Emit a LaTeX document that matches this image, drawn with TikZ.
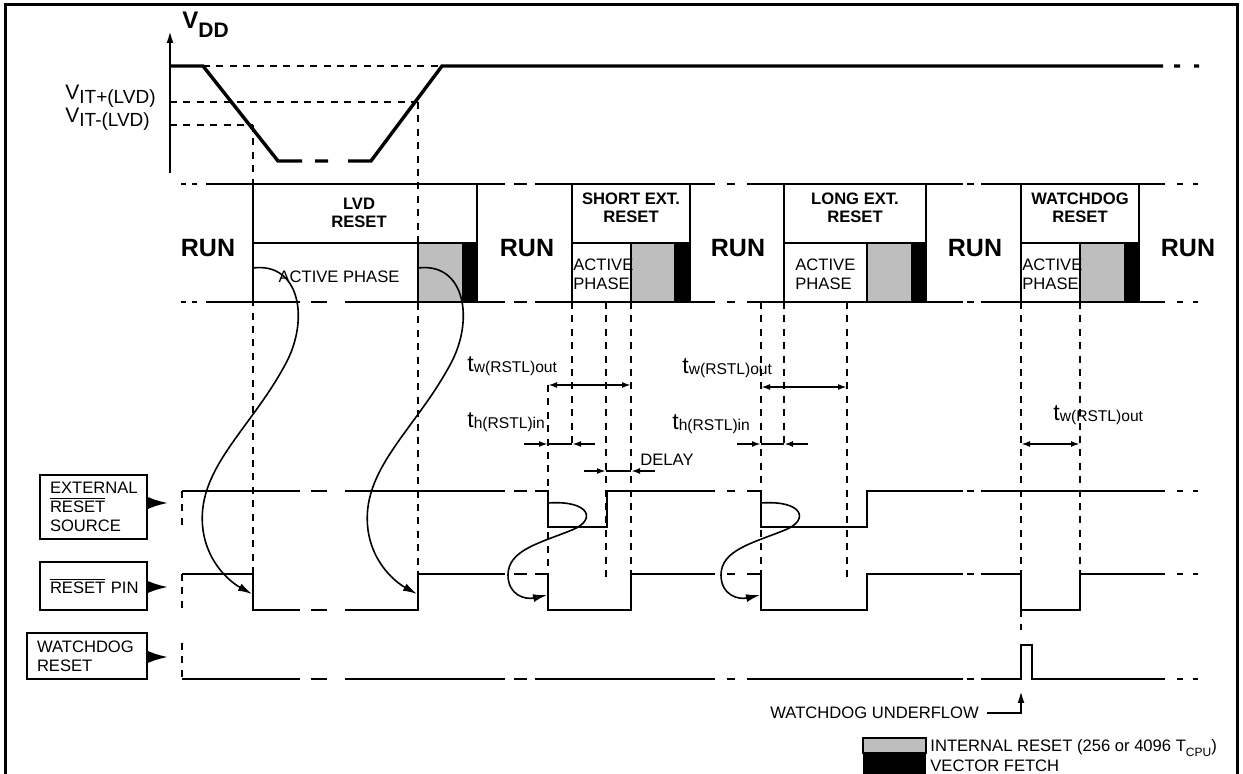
\documentclass[tikz,border=0pt]{standalone}
\usepackage{fontspec}
\setmainfont{Liberation Sans}
\usetikzlibrary{arrows.meta}
\definecolor{rstGray}{RGB}{190,190,190}
\newcommand{\fsz}[1]{\fontsize{#1}{#1}\selectfont}
\newcommand{\tlab}[1]{{\fsz{11.5}t}\raisebox{-0.5pt}{\fsz{7.8}#1}}
\newcommand{\rstbar}{$\overline{\hbox{RESET}}$}
\tikzset{
  txt/.style={font=\fontsize{8.3}{9.5}\selectfont, inner sep=0pt},
  btxt/.style={font=\fontsize{8.3}{8.8}\selectfont\bfseries, align=center, inner sep=0pt},
  runtxt/.style={font=\fontsize{12.5}{12.5}\selectfont\bfseries, inner sep=0pt},
  sig/.style={line width=1.15pt},
  vdd/.style={line width=1.7pt},
  guide/.style={line width=0.9pt, dash pattern=on 3.5pt off 3.2pt},
  dimarr/.style={line width=1pt, -{Latex[length=4.5pt,width=3pt]}},
  dimboth/.style={line width=1pt, {Latex[length=4.5pt,width=3pt]}-{Latex[length=4.5pt,width=3pt]}},
  cause/.style={line width=0.8pt, -{Latex[length=7pt,width=4pt]}},
  feed/.style={line width=1.1pt, -{Latex[length=10pt,width=6pt]}},
  sigbox/.style={draw, line width=1.1pt, font=\fontsize{8.3}{9.5}\selectfont, align=left, inner xsep=5pt, inner ysep=0pt}
}
\begin{document}
\begin{tikzpicture}[x=0.5pt,y=-0.5pt]
\useasboundingbox (0,0) rectangle (1243,774);
\draw[line width=1.5pt] (5,774) -- (5,5) -- (1237,5) -- (1237,774);

% supply
\draw[line width=1pt, -{Latex[length=6pt,width=3.5pt]}] (170,173) -- (170,31);
\node[anchor=base west, inner sep=0pt] (vddlab) at (182,29) {\fsz{12}\bfseries V\raisebox{-4.5pt}{\fsz{10.5}DD}};
\node[anchor=base west, inner sep=0pt] (vitp) at (65,100) {\fsz{10.5}V\raisebox{-2pt}{\fsz{9.5}IT+(LVD)}};
\node[anchor=base west, inner sep=0pt] (vitm) at (65,123) {\fsz{10.5}V\raisebox{-2pt}{\fsz{9.5}IT-(LVD)}};
\draw[guide] (203,66) -- (442,66) (170,102) -- (418,102) (170,125) -- (253,125);
\draw[vdd] (170,66) -- (203,66) -- (278,161) -- (302,161) (315,161) -- (328,161)
  (348,161) -- (371,161) -- (442,66) -- (1163,66) (1174,66) -- (1180,66) (1194,66) -- (1199,66);

% guides
\draw[guide] (253,125) -- (253,574) (418,102) -- (418,574);
\draw[guide] (548,385) -- (548,574) (572,302) -- (572,446) (606,302) -- (606,577) (631,302) -- (631,574);
\draw[guide] (761,302) -- (761,574) (784,302) -- (784,446) (847,302) -- (847,577);
\draw[guide] (1021,302) -- (1021,630) (1080,302) -- (1080,574);
\draw[guide] (182,491) -- (182,527) (182,574) -- (182,610) (182,643) -- (182,679);

% state row
\foreach \y in {184,302}
  \draw[sig] (181,\y) -- (186,\y) (192,\y) -- (197,\y) (514,\y) -- (527,\y) (535,\y) -- (715,\y)
    (727,\y) -- (735,\y) (747,\y) -- (963,\y) (967,\y) -- (974,\y) (981,\y) -- (1165,\y)
    (1177,\y) -- (1183,\y) (1193,\y) -- (1198,\y);
\draw[sig] (206,184) -- (505,184);
\draw[sig] (206,302) -- (300,302) (311,302) -- (327,302) (345,302) -- (505,302);
\draw[sig] (253,302) -- (253,184) (477,184) -- (477,302) (253,243) -- (477,243);
\foreach \a/\b in {572/690,784/926,1021/1139}
  \draw[sig] (\a,184) rectangle (\b,302) (\a,243) -- (\b,243);
\foreach \g/\k/\e in {418/463/477,631/675/690,867/912/926,1080/1125/1139} {
  \draw[sig, fill=rstGray] (\g,243) rectangle (\k,302);
  \fill (\k,243) rectangle (\e,302);
}
\node[runtxt] (run1) at (208,248) {RUN};
\node[runtxt] (run2) at (527,248) {RUN};
\node[runtxt] (run3) at (738,248) {RUN};
\node[runtxt] (run4) at (975,248) {RUN};
\node[runtxt] (run5) at (1188,248) {RUN};
\node[btxt] (lvdname) at (359,213) {LVD\\RESET};
\node[btxt] (shortname) at (631,208) {SHORT EXT.\\RESET};
\node[btxt] (longname) at (855,208) {LONG EXT.\\RESET};
\node[btxt] (wdname) at (1080,208) {WATCHDOG\\RESET};
\node[txt] (lvdact) at (339,277) {ACTIVE PHASE};
\node[txt, anchor=west, align=left] (shortact) at (573,274) {ACTIVE\\PHASE};
\node[txt, anchor=west, align=left] (longact) at (795,274) {ACTIVE\\PHASE};
\node[txt, anchor=west, align=left] (wdact) at (1022,274) {ACTIVE\\PHASE};

% timings
\draw[dimboth] (548,385) -- (631,385);
\draw[dimarr] (524,444) -- (548,444);
\draw[line width=1pt] (548,444) -- (572,444);
\draw[dimarr] (595,444) -- (572,444);
\draw[dimarr] (584,471) -- (606,471);
\draw[line width=1pt] (606,471) -- (631,471);
\draw[dimarr] (655,471) -- (631,471);
\draw[dimboth] (761,387) -- (847,387);
\draw[dimarr] (737,444) -- (761,444);
\draw[line width=1pt] (761,444) -- (784,444);
\draw[dimarr] (808,444) -- (784,444);
\draw[dimboth] (1021,444) -- (1080,444);
\node[anchor=base west, inner sep=0pt] (tw1) at (467,372) {\tlab{w(RSTL)out}};
\node[anchor=base west, inner sep=0pt] (th1) at (467,428) {\tlab{h(RSTL)in}};
\node[txt, anchor=base west] (dly) at (640,466) {DELAY};
\node[anchor=base west, inner sep=0pt] (tw2) at (682,374) {\tlab{w(RSTL)out}};
\node[anchor=base west, inner sep=0pt] (th2) at (672,430) {\tlab{h(RSTL)in}};
\node[anchor=base west, inner sep=0pt] (tw3) at (1053,421) {\tlab{w(RSTL)out}};

% signals
\draw[sig] (182,491) -- (300,491) (311,491) -- (327,491) (345,491) -- (505,491) (514,491) -- (527,491)
  (535,491) -- (548,491) -- (548,527) -- (607,527) -- (607,491) -- (715,491) (727,491) -- (735,491)
  (747,491) -- (761,491) -- (761,527) -- (867,527) -- (867,491) -- (963,491) (967,491) -- (974,491)
  (981,491) -- (1165,491) (1177,491) -- (1183,491) (1193,491) -- (1198,491);
\draw[sig] (182,574) -- (253,574) -- (253,610) -- (300,610) (311,610) -- (327,610)
  (345,610) -- (418,610) -- (418,574) -- (505,574) (514,574) -- (527,574)
  (535,574) -- (548,574) -- (548,610) -- (631,610) -- (631,574) -- (715,574) (727,574) -- (735,574)
  (747,574) -- (761,574) -- (761,610) -- (867,610) -- (867,574) -- (963,574) (967,574) -- (974,574)
  (981,574) -- (1021,574) -- (1021,610) -- (1080,610) -- (1080,574) -- (1165,574)
  (1177,574) -- (1183,574) (1193,574) -- (1198,574);
\draw[sig] (182,679) -- (300,679) (311,679) -- (327,679) (345,679) -- (505,679) (514,679) -- (527,679)
  (535,679) -- (715,679) (727,679) -- (735,679) (747,679) -- (963,679) (967,679) -- (974,679)
  (981,679) -- (1021,679) -- (1021,645) -- (1032,645) -- (1032,679) -- (1165,679)
  (1177,679) -- (1183,679) (1193,679) -- (1198,679);

% cause arrows
\foreach \s in {0,165}
  \draw[cause, shift={(\s,0)}] (253,268) .. controls (300,262) and (310,320) .. (285,365)
    .. controls (250,430) and (195,470) .. (203,530) .. controls (208,565) and (232,583) .. (252,594);
\foreach \s in {0,213}
  \draw[cause, shift={(\s,0)}] (548,503) .. controls (590,500) and (597,520) .. (572,530)
    .. controls (540,543) and (508,550) .. (508,575) .. controls (508,595) and (525,600) .. (547,595);

% signal names
\node[sigbox, minimum height=32pt, text width=43.5pt] (extsrc) at (93.5,507) {EXTERNAL\\\rstbar\\SOURCE};
\node[sigbox, minimum height=24pt, text width=43.5pt] (pinbox) at (93.5,586) {\mbox{\rstbar{} PIN}};
\node[sigbox, minimum height=23pt, text width=50pt] (wdbox) at (87,656) {WATCHDOG\\RESET};
\coordinate (extin) at (168,503);
\coordinate (pinin) at (168,587);
\coordinate (wdin) at (168,657);
\draw[feed] (extsrc.east |- extin) -- (extin);
\draw[feed] (pinbox.east |- pinin) -- (pinin);
\draw[feed] (wdbox.east |- wdin) -- (wdin);

% underflow
\node[txt, anchor=west] (wdu) at (770,713) {WATCHDOG UNDERFLOW};
\coordinate (wdcorner) at (1021,713);
\coordinate (wdtip) at (1021,691);
\draw[line width=1pt, -{Latex[length=6pt,width=3.5pt]}] ([xshift=4pt]wdu.east) -- (wdcorner) -- (wdtip);

% legend
\draw[line width=1pt, fill=rstGray] (863,738) rectangle (926,753);
\fill (863,753) rectangle (926,776);
\node[txt, anchor=base west] (legint) at (930,752) {INTERNAL RESET (256 or 4096 T\raisebox{-2pt}{\fsz{6}CPU})};
\node[txt, anchor=base west] (legvec) at (930,771) {VECTOR FETCH};
\end{tikzpicture}
\end{document}
